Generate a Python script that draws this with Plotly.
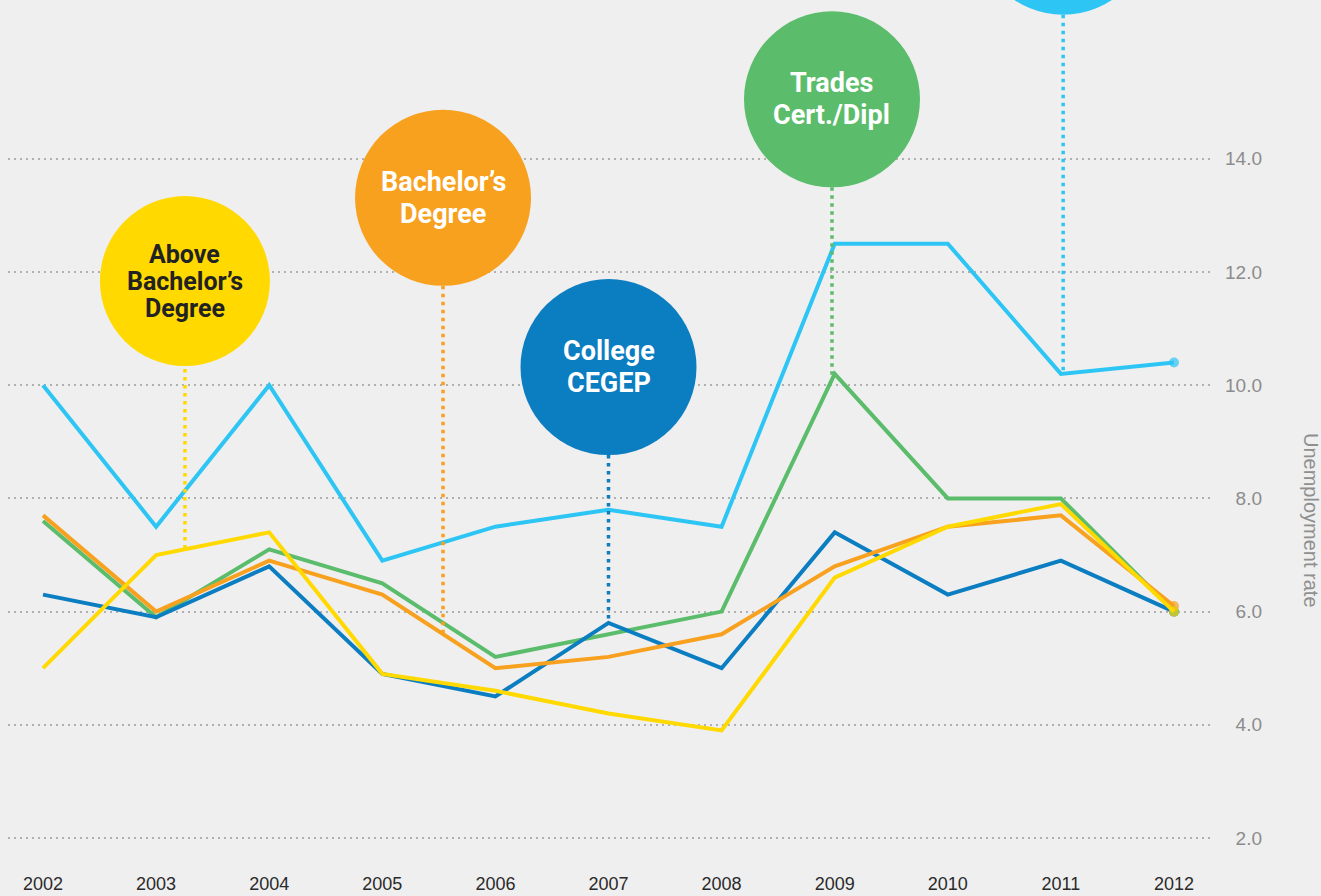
import numpy as np
import plotly.graph_objects as go

years = [2002, 2003, 2004, 2005, 2006, 2007, 2008, 2009, 2010, 2011, 2012]

trades_nocert = [10.0, 7.5, 10.0, 6.9, 7.5, 7.8, 7.5, 12.5, 12.5, 10.2, 10.4]   # light blue
trades_cert = [7.6, 5.9, 7.1, 6.5, 5.2, 5.6, 6.0, 10.2, 8.0, 8.0, 6.0]         # green
college_cegep = [6.3, 5.9, 6.8, 4.9, 4.5, 5.8, 5.0, 7.4, 6.3, 6.9, 6.0]       # dark blue
bachelors = [7.7, 6.0, 6.9, 6.3, 5.0, 5.2, 5.6, 6.8, 7.5, 7.7, 6.1]           # orange
above_bachelors = [5.0, 7.0, 7.4, 4.9, 4.6, 4.2, 3.9, 6.6, 7.5, 7.9, 6.0]     # yellow

y_ticks = [2.0, 4.0, 6.0, 8.0, 10.0, 12.0, 14.0]
y_title = "Unemployment rate"

series = [
    ("High school or less", trades_nocert, "#2DC5F4"),
    ("Trades Cert./Dipl", trades_cert, "#5BBD6B"),
    ("College CEGEP", college_cegep, "#0B7DC1"),
    ("Bachelor's Degree", bachelors, "#F7A11F"),
    ("Above Bachelor's Degree", above_bachelors, "#FFD900"),
]

# bubble layout: (series values, label lines, anchor year, center value, radius px, font size, line gap, text color, fill)
bubbles = [
    (above_bachelors, ["Above", "Bachelor\u2019s", "Degree"], 2003.255, 11.84, 85, 25, 27, "#222222", "#FFD900"),
    (bachelors, ["Bachelor\u2019s", "Degree"], 2005.537, 13.31, 88, 27, 32, "#FFFFFF", "#F7A11F"),
    (college_cegep, ["College", "CEGEP"], 2007.0, 10.32, 88, 27, 32, "#FFFFFF", "#0B7DC1"),
    (trades_cert, ["Trades", "Cert./Dipl"], 2008.976, 15.05, 88, 27, 32, "#FFFFFF", "#5BBD6B"),
    (trades_nocert, [], 2011.02, 18.10, 88, 27, 32, "#FFFFFF", "#2DC5F4"),
]

fig = go.Figure()
for name, vals, color in series:
    sizes = [0] * (len(vals) - 1) + [10]
    fig.add_trace(go.Scatter(
        x=years, y=vals, name=name, mode="lines+markers",
        line=dict(color=color, width=4),
        marker=dict(color=color, size=sizes, line=dict(width=0)),
        hoverinfo="x+y+name",
    ))

shapes = []
annotations = []
bold_font = "Roboto, Liberation Sans Narrow, Arial Narrow, sans-serif"
for vals, lines, xa, yc, r, fs, gap, tcol, col in bubbles:
    yend = float(np.interp(xa, years, vals))
    shapes.append(dict(type="line", xref="x", yref="y", x0=xa, x1=xa, y0=yc, y1=yend,
                       line=dict(color=col, width=3.5, dash="3.5px,4.5px"), layer="above"))
    shapes.append(dict(type="circle", xref="x", yref="y", xsizemode="pixel", ysizemode="pixel",
                       xanchor=xa, yanchor=yc, x0=-r, x1=r, y0=-r, y1=r,
                       fillcolor=col, line=dict(width=0), layer="above"))
    n = len(lines)
    for i, t in enumerate(lines):
        annotations.append(dict(
            x=xa, y=yc, xref="x", yref="y", text="<b>" + t + "</b>", showarrow=False,
            yshift=((n - 1) / 2 - i) * gap, xanchor="center", yanchor="middle",
            font=dict(family=bold_font, size=fs, color=tcol),
        ))

annotations.append(dict(
    x=1311 / 1321, y=1 - 520 / 870, xref="paper", yref="paper", text=y_title,
    showarrow=False, textangle=90, xanchor="center", yanchor="middle",
    font=dict(family="Liberation Sans, Arial, sans-serif", size=20, color="#8f8f8f"),
))

fig.update_layout(
    width=1321, height=896,
    margin=dict(l=0, r=0, t=0, b=26),
    paper_bgcolor="#EFEFEF", plot_bgcolor="#EFEFEF",
    showlegend=False,
    shapes=shapes, annotations=annotations,
    xaxis=dict(
        domain=[8 / 1321, 1212 / 1321],
        range=[2002 - 35 / 113.1, 2002 + 1169 / 113.1],
        tickmode="array", tickvals=years, ticktext=[str(y) for y in years],
        showgrid=False, zeroline=False, showline=False, ticks="",
        automargin=False, ticklabelstandoff=1,
        tickfont=dict(family="Liberation Sans, Arial, sans-serif", size=18, color="#2a2a2a"),
    ),
    yaxis=dict(
        range=[2 - 32 / 56.6, 2 + 838 / 56.6],
        anchor="free", position=1262 / 1321, side="left",
        tickmode="array", tickvals=y_ticks, ticktext=[f"{v:.1f}" for v in y_ticks],
        showgrid=True, gridcolor="#B0B0B0", gridwidth=2, griddash="2px,4px",
        zeroline=False, showline=False, ticks="", automargin=False,
        tickfont=dict(family="Liberation Sans, Arial, sans-serif", size=19, color="#8c8c8c"),
    ),
)

fig.write_html(
    "out.html",
    config={"displayModeBar": False},
    post_script="document.documentElement.style.margin='0';document.body.style.margin='0';"
                "document.body.style.overflow='hidden';document.body.style.background='#EFEFEF';",
)
